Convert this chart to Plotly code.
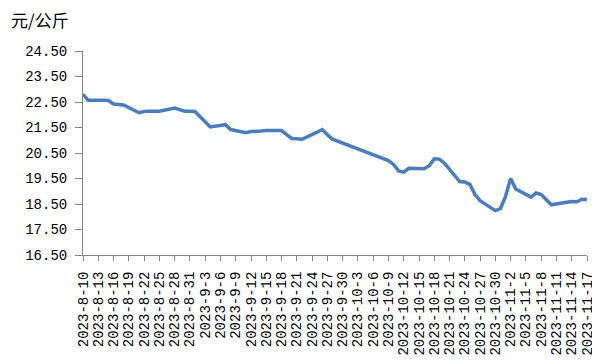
import pandas as pd
import plotly.graph_objects as go

dates = [
    "2023-8-10", "2023-8-11", "2023-8-14", "2023-8-15", "2023-8-16", "2023-8-17", "2023-8-18",
    "2023-8-21", "2023-8-22", "2023-8-23", "2023-8-24", "2023-8-25",
    "2023-8-28", "2023-8-29", "2023-8-30", "2023-8-31", "2023-9-1",
    "2023-9-4", "2023-9-5", "2023-9-6", "2023-9-7", "2023-9-8",
    "2023-9-11", "2023-9-12", "2023-9-13", "2023-9-14", "2023-9-15",
    "2023-9-18", "2023-9-19", "2023-9-20", "2023-9-21", "2023-9-22",
    "2023-9-25", "2023-9-26", "2023-9-27", "2023-9-28",
    "2023-10-9", "2023-10-10", "2023-10-11", "2023-10-12", "2023-10-13",
    "2023-10-16", "2023-10-17", "2023-10-18", "2023-10-19", "2023-10-20",
    "2023-10-23", "2023-10-24", "2023-10-25", "2023-10-26", "2023-10-27",
    "2023-10-30", "2023-10-31", "2023-11-1", "2023-11-2", "2023-11-3",
    "2023-11-6", "2023-11-7", "2023-11-8", "2023-11-9", "2023-11-10",
    "2023-11-13", "2023-11-14", "2023-11-15", "2023-11-16", "2023-11-17",
]

prices = [
    22.80, 22.57, 22.57, 22.56, 22.42, 22.40, 22.38,
    22.08, 22.13, 22.14, 22.13, 22.14,
    22.26, 22.19, 22.14, 22.14, 22.13,
    21.52, 21.56, 21.58, 21.61, 21.42,
    21.30, 21.34, 21.34, 21.36, 21.38,
    21.38, 21.22, 21.07, 21.06, 21.04,
    21.32, 21.42, 21.22, 21.04,
    20.20, 20.05, 19.80, 19.75, 19.90,
    19.88, 20.00, 20.27, 20.26, 20.10,
    19.38, 19.36, 19.27, 18.87, 18.63,
    18.24, 18.32, 18.80, 19.50, 19.09,
    18.77, 18.93, 18.87, 18.68, 18.47,
    18.57, 18.60, 18.59, 18.69, 18.68,
]

tick_labels = [
    "2023-8-10", "2023-8-13", "2023-8-16", "2023-8-19", "2023-8-22", "2023-8-25",
    "2023-8-28", "2023-8-31", "2023-9-3", "2023-9-6", "2023-9-9", "2023-9-12",
    "2023-9-15", "2023-9-18", "2023-9-21", "2023-9-24", "2023-9-27", "2023-9-30",
    "2023-10-3", "2023-10-6", "2023-10-9", "2023-10-12", "2023-10-15", "2023-10-18",
    "2023-10-21", "2023-10-24", "2023-10-27", "2023-10-30", "2023-11-2", "2023-11-5",
    "2023-11-8", "2023-11-11", "2023-11-14", "2023-11-17",
]

y_ticks = [16.5, 17.5, 18.5, 19.5, 20.5, 21.5, 22.5, 23.5, 24.5]
unit_label = "元/公斤"

x_dates = pd.to_datetime(dates, format="%Y-%m-%d")
tick_dates = pd.to_datetime(tick_labels, format="%Y-%m-%d")

fig = go.Figure()
fig.add_trace(go.Scatter(
    x=x_dates, y=prices, mode="lines",
    line=dict(color="#4A7EBB", width=3.5),
    hoverinfo="x+y",
))

mono = "'Liberation Mono', 'DejaVu Sans Mono', monospace"
axis_col = "#868686"

fig.update_layout(
    width=600, height=360,
    margin=dict(l=75, r=15, t=43, b=99),
    paper_bgcolor="white", plot_bgcolor="white",
    showlegend=False,
    xaxis=dict(
        type="date",
        range=[tick_dates[0], tick_dates[-1]],
        tickmode="array", tickvals=tick_dates, ticktext=tick_labels,
        tickangle=-90,
        tickfont=dict(family=mono, size=14, color="black"),
        ticklabelstandoff=5,
        showgrid=False, zeroline=False,
        showline=True, linecolor=axis_col, linewidth=1,
        ticks="outside", ticklen=5, tickcolor=axis_col, tickwidth=1,
    ),
    yaxis=dict(
        range=[y_ticks[0], y_ticks[-1]],
        tickmode="array", tickvals=y_ticks,
        ticktext=[f"{v:.2f}" for v in y_ticks],
        tickfont=dict(family=mono, size=14, color="black"),
        ticklabelstandoff=5,
        showgrid=False, zeroline=False,
        showline=True, linecolor=axis_col, linewidth=1,
        ticks="outside", ticklen=7, tickcolor=axis_col, tickwidth=1,
    ),
    annotations=[dict(
        text=unit_label, xref="paper", yref="paper",
        x=(0 - 75) / 510, y=1 + (43 - 9) / 218,
        xanchor="left", yanchor="middle", showarrow=False,
        font=dict(family="'Noto Sans CJK SC', sans-serif", size=17, color="black"),
    )],
)

fig.write_html("out.html")
